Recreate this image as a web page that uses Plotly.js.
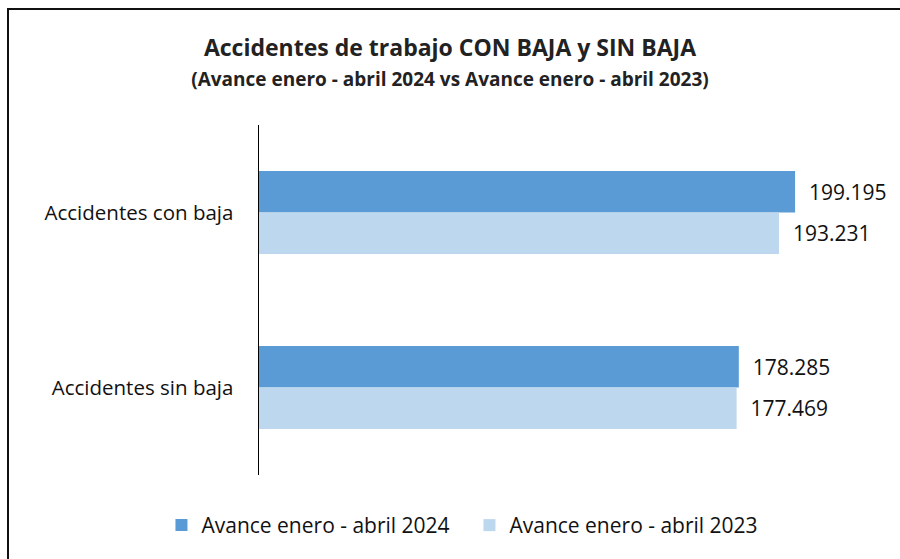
<!DOCTYPE html>
<html>
<head>
<meta charset="utf-8">
<script src="https://cdn.plot.ly/plotly-3.0.1.min.js"></script>
<style>html,body{margin:0;padding:0;background:#fff;}#chart{width:900px;height:559px;}</style>
</head>
<body>
<div id="chart"></div>
<script>
const categories = ["Accidentes con baja", "Accidentes sin baja"];
const seriesNames = ["Avance enero - abril 2024", "Avance enero - abril 2023"];
const values2024 = [199195, 178285];
const values2023 = [193231, 177469];
const labels2024 = ["199.195", "178.285"];
const labels2023 = ["193.231", "177.469"];

const FONT = "'Open Sans', sans-serif";

const traces = [
  {type: "bar", orientation: "h", name: seriesNames[0], y: categories, x: values2024,
   text: labels2024, texttemplate: "  %{text}", textposition: "outside", cliponaxis: false,
   marker: {color: "#5B9BD5"}, textfont: {size: 21, color: "#111"}},
  {type: "bar", orientation: "h", name: seriesNames[1], y: categories, x: values2023,
   text: labels2023, texttemplate: "  %{text}", textposition: "outside", cliponaxis: false,
   marker: {color: "#BDD7EE"}, textfont: {size: 21, color: "#111"}}
];

const layout = {
  width: 900, height: 559,
  margin: {l: 259, r: 22, t: 125, b: 84},
  paper_bgcolor: "#fff", plot_bgcolor: "#fff",
  font: {family: FONT, color: "#111"},
  title: {
    text: "<b>Accidentes de trabajo CON BAJA y SIN BAJA</b><br><span style='font-size:19px'><b>(Avance enero - abril 2024 vs Avance enero - abril 2023)</b></span>",
    x: 0.5, xanchor: "center", yref: "container", y: 1 - 56 / 559, yanchor: "middle",
    font: {size: 23, color: "#222", family: FONT}
  },
  barmode: "group", bargap: 0.526, bargroupgap: 0,
  xaxis: {range: [0, 230000], showticklabels: false, showgrid: false, zeroline: false, showline: false, ticks: ""},
  yaxis: {autorange: "reversed", showline: true, linecolor: "#000", linewidth: 1.5, ticks: "",
          ticklabelstandoff: 20, tickfont: {size: 20.5, color: "#111"}, showgrid: false},
  showlegend: true,
  legend: {orientation: "h", x: 0.1794, xanchor: "left", xref: "container", y: 0.06, yref: "container", yanchor: "middle",
           font: {size: 21, color: "#111"}, itemwidth: 30, traceorder: "normal",
           entrywidth: 263, entrywidthmode: "pixels"},
  shapes: [{type: "rect", xref: "paper", yref: "paper",
            x0: (8 - 259) / 619, x1: (910 - 259) / 619,
            y0: (475 - 570) / 350, y1: (475 - 9) / 350,
            line: {color: "#111", width: 2}, fillcolor: "rgba(0,0,0,0)", layer: "below"}]
};

Plotly.newPlot("chart", traces, layout, {displayModeBar: false, staticPlot: true});
</script>
</body>
</html>
